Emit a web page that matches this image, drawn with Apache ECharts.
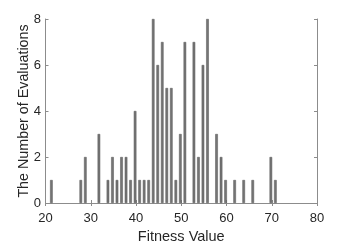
<!DOCTYPE html>
<html><head><meta charset="utf-8">
<script src="https://cdn.jsdelivr.net/npm/echarts@6/dist/echarts.min.js"></script>
<style>html,body{margin:0;padding:0;background:#fff}#c{width:351px;height:249px}</style>
</head><body><div id="c"></div>
<script>
var fitness = [21.3,27.8,28.8,31.8,33.8,34.8,35.8,36.8,37.8,38.8,39.8,40.8,41.8,42.8,43.8,44.8,45.8,46.8,47.8,48.8,49.8,50.8,52.8,53.8,54.8,55.8,57.8,58.8,59.8,61.8,63.8,65.8,69.8,70.8];
var counts  = [1,1,2,3,1,2,1,2,2,1,4,1,1,1,8,6,7,5,5,1,3,7,7,2,6,8,3,2,1,1,1,1,2,1];
var xTicks = [20,30,40,50,60,70,80];
var yTicks = [0,2,4,6,8];
var data = fitness.map(function(x,i){return [x,counts[i]];});
var chart = echarts.init(document.getElementById('c'));
var axisCol = '#8c8c8c', txt = '#262626', font = 'Liberation Sans';
chart.setOption({
  animation:false,
  grid:{left:45.5,right:34,top:19,bottom:40},
  xAxis:[{type:'value',min:20,max:80,interval:10,
    name:'Fitness Value',nameLocation:'middle',nameGap:26,nameMoveOverlap:false,
    nameTextStyle:{color:txt,fontSize:14.5,fontFamily:font},
    axisLine:{lineStyle:{color:axisCol}},
    axisTick:{inside:true,length:3,lineStyle:{color:axisCol}},
    axisLabel:{color:txt,fontSize:13,fontFamily:font,margin:9},
    splitLine:{show:false}},
   {type:'value',position:'top',min:20,max:80,interval:10,
    axisLine:{show:true,lineStyle:{color:axisCol}},
    axisTick:{inside:true,length:3,lineStyle:{color:axisCol}},
    axisLabel:{show:false},splitLine:{show:false}}],
  yAxis:[{type:'value',min:0,max:8,interval:2,
    name:'The Number of Evaluations',nameLocation:'middle',nameGap:14,nameMoveOverlap:false,
    nameTextStyle:{color:txt,fontSize:14.3,fontFamily:font},
    axisLine:{show:true,lineStyle:{color:axisCol}},
    axisTick:{show:true,inside:true,length:3,lineStyle:{color:axisCol}},
    axisLabel:{color:txt,fontSize:13,fontFamily:font,margin:4.5},
    splitLine:{show:false}},
   {type:'value',position:'right',min:0,max:8,interval:2,
    axisLine:{show:true,lineStyle:{color:axisCol}},
    axisTick:{show:true,inside:true,length:3,lineStyle:{color:axisCol}},
    axisLabel:{show:false},splitLine:{show:false}}],
  series:[{type:'bar',data:data,barWidth:2.6,
    itemStyle:{color:'#757575',borderColor:'#555555',borderWidth:0.5}}]
});
</script></body></html>
